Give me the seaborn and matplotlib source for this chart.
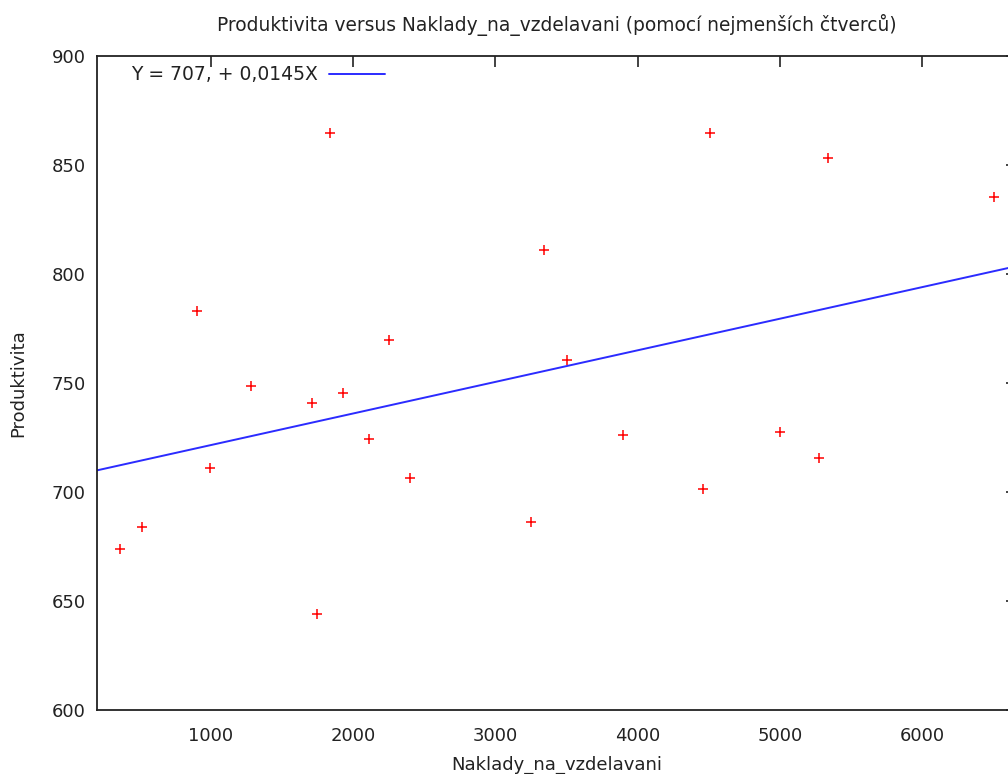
import numpy as np
import pandas as pd
import matplotlib
matplotlib.use("Agg")
import matplotlib.pyplot as plt
import seaborn as sns

# Data
naklady = [365, 516, 905, 999, 1287, 1711, 1747, 1838, 1929, 2114, 2254, 2402,
           3254, 3345, 3503, 3895, 4457, 4508, 5003, 5271, 5335, 6500]
produktivita = [674.0, 683.9, 782.9, 710.9, 748.5, 741.0, 644.0, 864.8, 745.4, 724.5, 769.6, 706.4,
                686.1, 810.9, 760.6, 726.1, 701.4, 864.7, 727.5, 715.6, 853.2, 835.2]
intercept = 707.0
slope = 0.0145
x_ticks = [1000, 2000, 3000, 4000, 5000, 6000]
y_ticks = [600, 650, 700, 750, 800, 850, 900]
title = "Produktivita versus Naklady_na_vzdelavani (pomocí nejmenších čtverců)"
xlabel = "Naklady_na_vzdelavani"
ylabel = "Produktivita"
legend_label = "Y = 707, + 0,0145X"

sns.set_theme(style="white")
plt.rcParams['font.family'] = ['DejaVu Sans']

df = pd.DataFrame({"x": naklady, "y": produktivita})

W, H = 1008, 774
fig = plt.figure(figsize=(W / 100, H / 100), dpi=100)
left, right, top, bottom = 97.3, 1017, 56, 710
ax = fig.add_axes([left / W, 1 - bottom / H, (right - left) / W, (bottom - top) / H])

xlim = (204, 6665)
ylim = (600, 900)

sns.scatterplot(data=df, x="x", y="y", marker="+", color="#ff0000", s=55,
                linewidth=1.1, ax=ax, legend=False, zorder=3)

line_x = np.array(xlim, dtype=float)
line_df = pd.DataFrame({"x": line_x, "y": intercept + slope * line_x})
sns.lineplot(data=line_df, x="x", y="y", color="#2b2bff", linewidth=1.4, ax=ax,
             label=legend_label, zorder=2)

ax.set_xticks(x_ticks)
ax.set_yticks(y_ticks)
ax.set_xlim(*xlim)
ax.set_ylim(*ylim)
ax.tick_params(direction="in", length=8, width=1.2, top=True, right=True,
               labelsize=13, colors="#222222")
ax.tick_params(axis="x", pad=12)
ax.tick_params(axis="y", pad=8.5)
for sp in ax.spines.values():
    sp.set_color("#222222")
    sp.set_linewidth(1.3)

ax.set_title(title, fontsize=13.4, color="#222222", pad=18)
ax.set_xlabel(xlabel, fontsize=13, color="#222222", labelpad=8)
ax.set_ylabel(ylabel, fontsize=13, color="#222222", labelpad=17)

leg = ax.legend(loc="upper left", frameon=False, markerfirst=False, fontsize=13.5,
                handlelength=3.0, handletextpad=0.6, borderaxespad=0.3,
                bbox_to_anchor=(0.022, 1.006))
for t in leg.get_texts():
    t.set_color("#222222")

fig.savefig("out.png", dpi=100, facecolor="white")
